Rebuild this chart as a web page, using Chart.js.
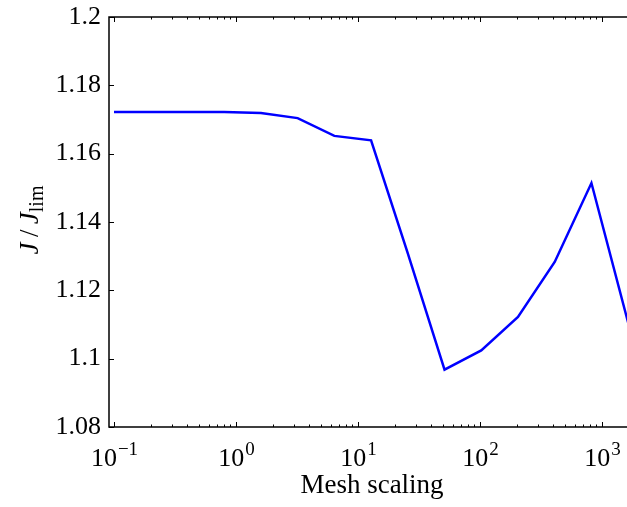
<!DOCTYPE html>
<html lang="en">
<head>
    <meta charset="UTF-8">
    <title>Mesh scaling</title>
    <style>
        body {
            margin: 0;
            padding: 0;
            background-color: #fff;
        }
        .chart-container {
            width: 627px;
            height: 507px;
        }
    </style>
</head>
<body>

    <div class="chart-container">
        <canvas id="meshChart"></canvas>
    </div>

    <script src="https://cdn.jsdelivr.net/npm/chart.js"></script>
    <script>
        // Data
        const meshScaling = [0.1, 0.2, 0.4, 0.8, 1.6, 3.2, 6.4, 12.8, 25.6, 51.2, 102.4, 204.8, 409.6, 819.2, 1638.4];
        const jRatio = [1.1722, 1.1722, 1.1722, 1.1722, 1.1719, 1.1704, 1.1652, 1.1639, 1.1308, 1.0968, 1.1024, 1.1122, 1.1283, 1.1514, 1.1105];

        // Axis ticks
        const xTickExponents = [-1, 0, 1, 2, 3];
        const yTicks = [1.08, 1.1, 1.12, 1.14, 1.16, 1.18, 1.2];

        const serif = '"Liberation Serif", "DejaVu Serif", serif';

        // Frame with inward ticks, x labels as powers of ten, axis titles
        const framePlugin = {
            id: 'frame',
            afterDraw(chart) {
                const ctx = chart.ctx;
                const a = chart.chartArea;
                const xs = chart.scales.x;
                const ys = chart.scales.y;
                ctx.save();
                ctx.strokeStyle = '#000';
                ctx.lineWidth = 1.5;

                // spines (right one is cut off in the original)
                ctx.beginPath();
                ctx.moveTo(a.right + 2, a.top);
                ctx.lineTo(a.left, a.top);
                ctx.lineTo(a.left, a.bottom);
                ctx.lineTo(a.right + 2, a.bottom);
                ctx.stroke();

                // x ticks: major and minor, bottom and top
                ctx.lineWidth = 1;
                const tick = (x, len) => {
                    ctx.beginPath();
                    ctx.moveTo(x, a.bottom);
                    ctx.lineTo(x, a.bottom - len);
                    ctx.moveTo(x, a.top);
                    ctx.lineTo(x, a.top + len);
                    ctx.stroke();
                };
                for (let d = -2; d <= 3; d++) {
                    for (let m = 1; m <= 9; m++) {
                        const v = m * Math.pow(10, d);
                        if (v < xs.min || v > xs.max) continue;
                        tick(Math.round(xs.getPixelForValue(v)) + 0.5, m === 1 ? 5 : 2.5);
                    }
                }

                // y ticks on the left spine
                yTicks.forEach(v => {
                    const y = Math.round(ys.getPixelForValue(v)) + 0.5;
                    ctx.beginPath();
                    ctx.moveTo(a.left, y);
                    ctx.lineTo(a.left + 5, y);
                    ctx.stroke();
                });

                // x tick labels: 10^e
                ctx.fillStyle = '#000';
                ctx.textBaseline = 'alphabetic';
                ctx.textAlign = 'left';
                xTickExponents.forEach(e => {
                    const x = xs.getPixelForValue(Math.pow(10, e));
                    const sup = e < 0 ? '\u2212' + (-e) : String(e);
                    ctx.font = '26px ' + serif;
                    const wBase = ctx.measureText('10').width;
                    ctx.font = '19px ' + serif;
                    const wSup = ctx.measureText(sup).width;
                    const x0 = x - (wBase + wSup) / 2;
                    ctx.font = '26px ' + serif;
                    ctx.fillText('10', x0, a.bottom + 39);
                    ctx.font = '19px ' + serif;
                    ctx.fillText(sup, x0 + wBase + 1, a.bottom + 28);
                });

                // x title
                ctx.font = '27px ' + serif;
                ctx.textAlign = 'center';
                ctx.fillText('Mesh scaling', 372, 493);

                // y title: J / J_lim, rotated
                ctx.translate(38, 220);
                ctx.rotate(-Math.PI / 2);
                const parts = [
                    { t: 'J', f: 'italic 27px ' + serif, dy: 0 },
                    { t: '\u2009/\u2009', f: '27px ' + serif, dy: 0 },
                    { t: 'J', f: 'italic 27px ' + serif, dy: 0 },
                    { t: 'lim', f: '20px ' + serif, dy: 5 }
                ];
                let total = 0;
                parts.forEach(p => { ctx.font = p.f; p.w = ctx.measureText(p.t).width; total += p.w; });
                let cx = -total / 2;
                ctx.textAlign = 'left';
                parts.forEach(p => {
                    ctx.font = p.f;
                    ctx.fillText(p.t, cx, p.dy);
                    cx += p.w;
                });
                ctx.restore();
            }
        };

        const ctx = document.getElementById('meshChart').getContext('2d');

        const config = {
            type: 'line',
            data: {
                datasets: [{
                    data: meshScaling.map((x, i) => ({ x: x, y: jRatio[i] })),
                    borderColor: '#0000ff',
                    borderWidth: 2.5,
                    pointRadius: 0,
                    tension: 0,
                    fill: false
                }]
            },
            options: {
                responsive: false,
                animation: false,
                layout: {
                    padding: { top: 17, right: 0, left: 0, bottom: 0 }
                },
                plugins: {
                    legend: { display: false },
                    tooltip: { enabled: false }
                },
                scales: {
                    x: {
                        type: 'logarithmic',
                        min: 0.091,
                        max: 1603,
                        grid: { display: false, drawTicks: false },
                        border: { display: false },
                        ticks: { display: false },
                        afterFit(scale) {
                            scale.height = 80;
                            scale.paddingLeft = 0;
                            scale.paddingRight = 0;
                        }
                    },
                    y: {
                        type: 'linear',
                        min: 1.08,
                        max: 1.2,
                        grid: { display: false, drawTicks: false },
                        border: { display: false },
                        afterBuildTicks(scale) {
                            scale.ticks = yTicks.map(v => ({ value: v }));
                        },
                        ticks: {
                            padding: 8,
                            color: '#000',
                            font: { family: serif, size: 26 },
                            callback: v => String(Number(v.toFixed(2)))
                        },
                        afterFit(scale) {
                            scale.width = 109;
                            scale.paddingTop = 0;
                            scale.paddingBottom = 0;
                        }
                    }
                }
            },
            plugins: [framePlugin]
        };

        const canvas = document.getElementById('meshChart');
        canvas.width = 627;
        canvas.height = 507;
        const meshChart = new Chart(ctx, config);
    </script>

</body>
</html>
